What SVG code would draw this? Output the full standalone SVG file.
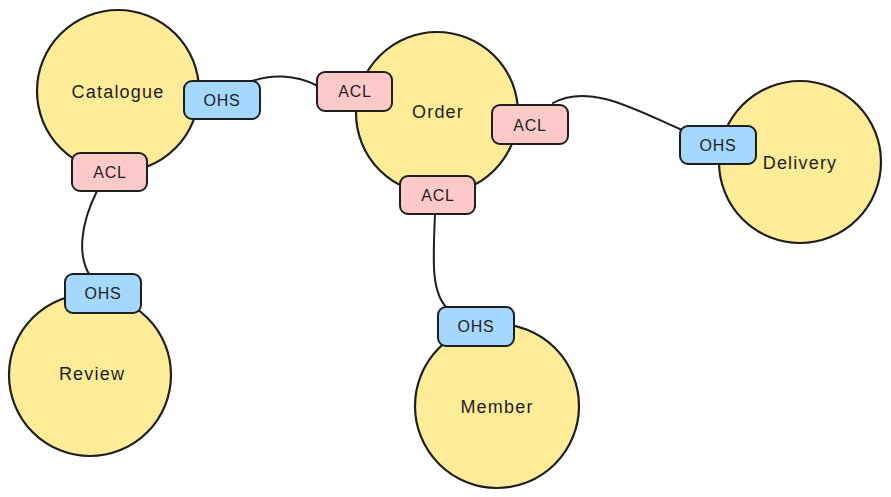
<svg xmlns="http://www.w3.org/2000/svg" width="891" height="497" viewBox="0 0 891 497">
<style>
.ctx{fill:#ffec99;stroke:#1e1e1e;stroke-width:2.2}
.ohs{fill:#a5d8ff;stroke:#1e1e1e;stroke-width:2}
.acl{fill:#ffc9c9;stroke:#1e1e1e;stroke-width:2}
.lbl{font-family:"Liberation Sans",Arial,sans-serif;font-size:18px;fill:#1e1e1e;text-anchor:middle;dominant-baseline:central;letter-spacing:1.2px}
.blbl{font-family:"Liberation Sans",Arial,sans-serif;font-size:16px;fill:#1e1e1e;text-anchor:middle;dominant-baseline:central;letter-spacing:0.8px}
.conn{fill:none;stroke:#1e1e1e;stroke-width:2;stroke-linecap:round}
</style>
<rect width="891" height="497" fill="#ffffff"/>
<g id="catalogue"><circle class="ctx" cx="118" cy="91" r="81"/><text class="lbl" x="118" y="92">Catalogue</text></g>
<g id="order"><circle class="ctx" cx="437" cy="113" r="81"/><text class="lbl" x="438" y="112">Order</text></g>
<g id="delivery"><circle class="ctx" cx="800" cy="162" r="81"/><text class="lbl" x="800" y="163">Delivery</text></g>
<g id="review"><circle class="ctx" cx="90" cy="375" r="81"/><text class="lbl" x="92" y="374">Review</text></g>
<g id="member"><circle class="ctx" cx="497" cy="406" r="82"/><text class="lbl" x="497" y="407">Member</text></g>
<g id="connectors">
<path class="conn" d="M 250 82 C 270 74, 295 74, 318 86"/>
<path class="conn" d="M 553 103 C 590 82, 640 112, 682 130"/>
<path class="conn" d="M 97 191 C 80 225, 78 255, 89 274"/>
<path class="conn" d="M 435 214 C 433 260, 431 292, 447 308"/>
</g>
<g id="catalogue-ohs"><rect class="ohs" x="184" y="81" width="76" height="38" rx="8"/><text class="blbl" x="222" y="100">OHS</text></g>
<g id="catalogue-acl"><rect class="acl" x="72" y="153" width="75" height="38" rx="8"/><text class="blbl" x="110" y="172">ACL</text></g>
<g id="order-acl-left"><rect class="acl" x="317" y="72" width="75" height="39" rx="8"/><text class="blbl" x="355" y="91">ACL</text></g>
<g id="order-acl-right"><rect class="acl" x="492" y="105" width="76" height="39" rx="8"/><text class="blbl" x="530" y="125">ACL</text></g>
<g id="order-acl-bottom"><rect class="acl" x="400" y="176" width="75" height="38" rx="8"/><text class="blbl" x="438" y="195">ACL</text></g>
<g id="delivery-ohs"><rect class="ohs" x="680" y="126" width="76" height="38" rx="8"/><text class="blbl" x="718" y="145">OHS</text></g>
<g id="review-ohs"><rect class="ohs" x="65" y="274" width="76" height="39" rx="8"/><text class="blbl" x="103" y="293">OHS</text></g>
<g id="member-ohs"><rect class="ohs" x="438" y="307" width="76" height="39" rx="8"/><text class="blbl" x="476" y="326">OHS</text></g>
</svg>
